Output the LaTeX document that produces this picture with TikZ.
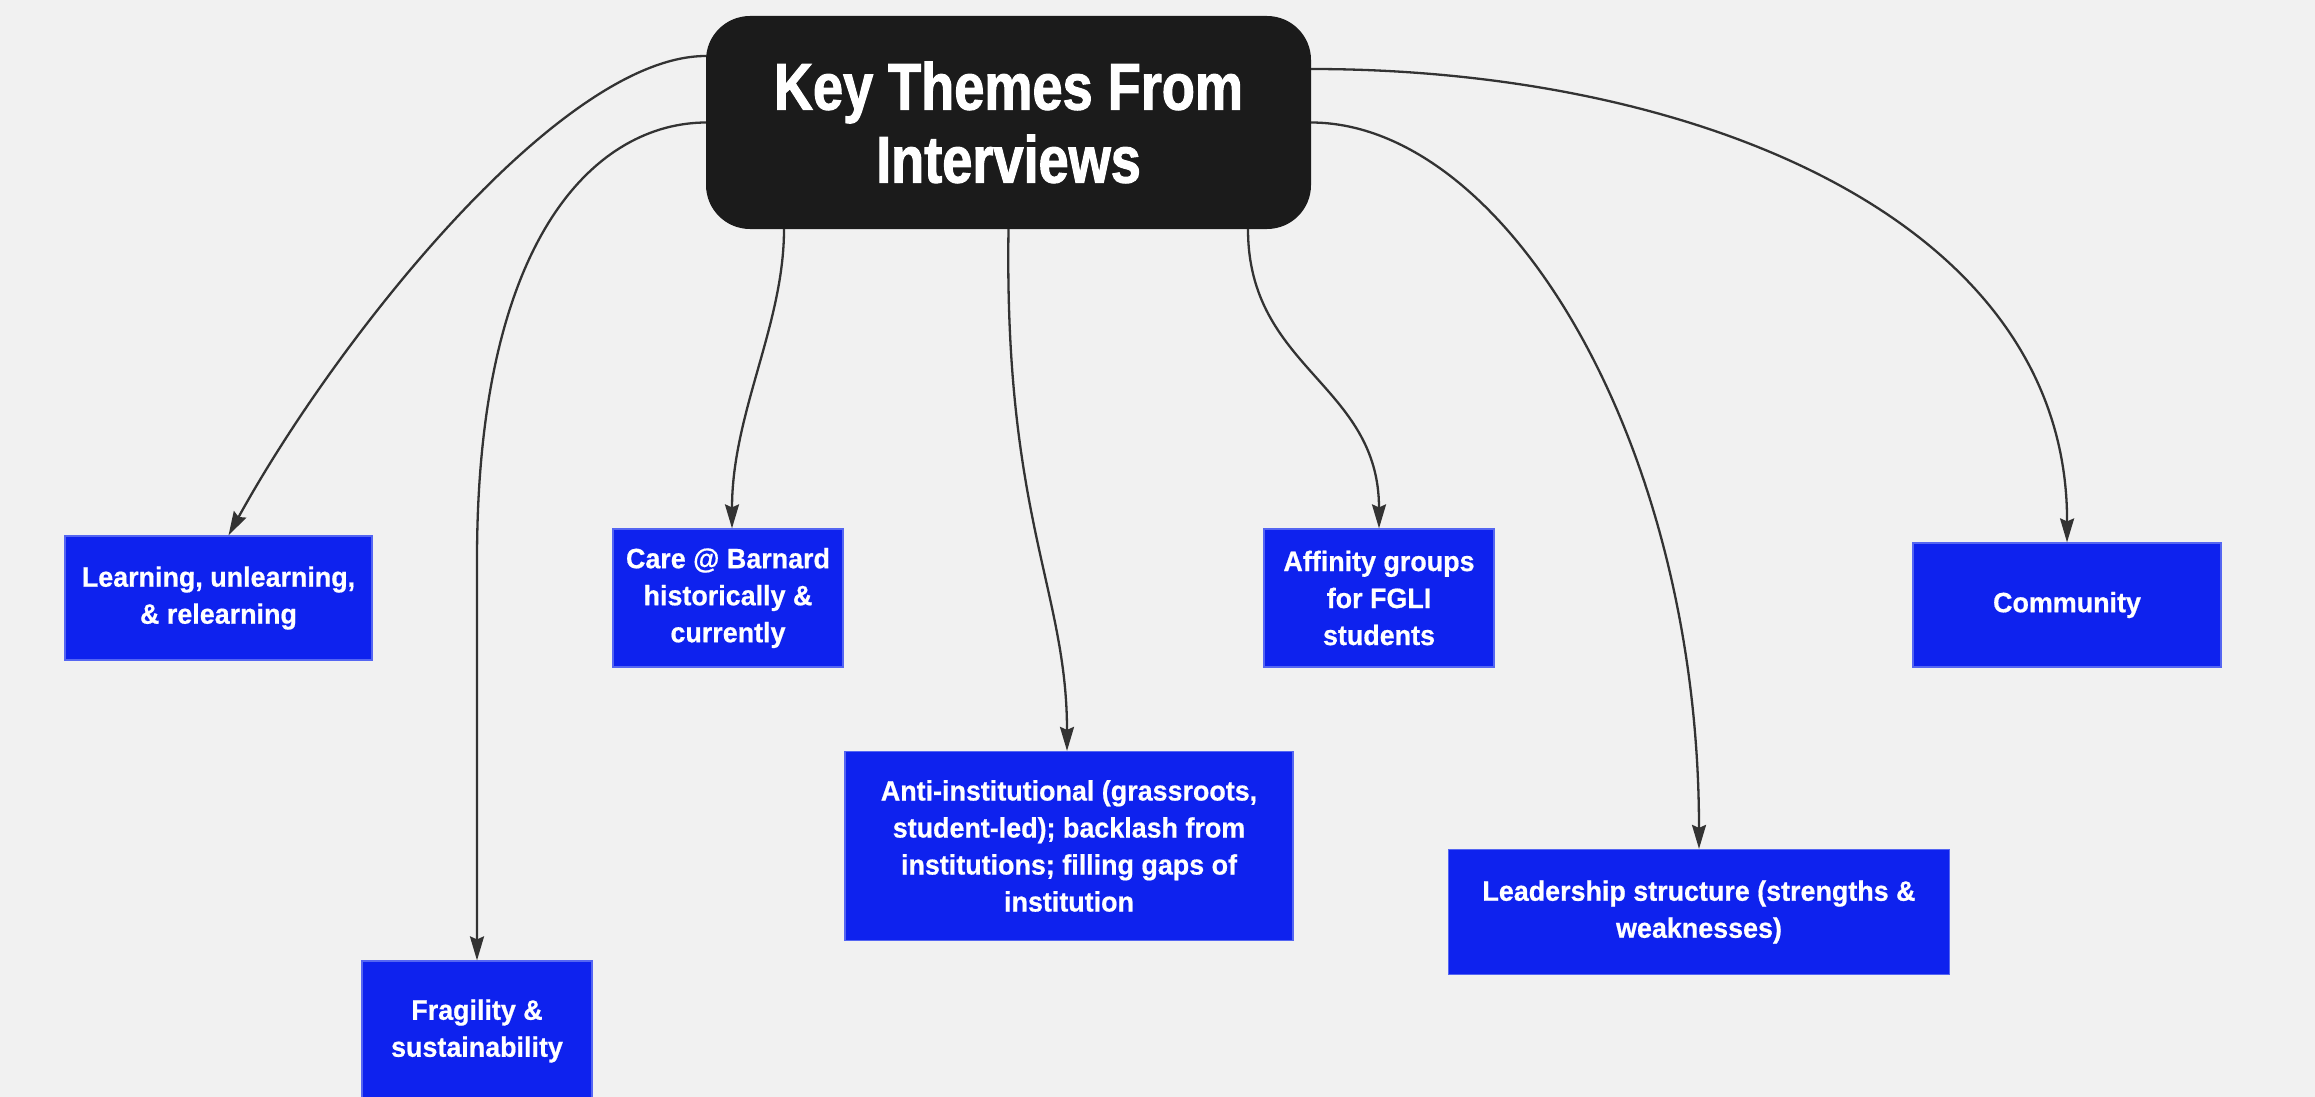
\documentclass[tikz,border=0pt]{standalone}
\usepackage{fontspec}
\setmainfont{Liberation Sans}
\newfontfamily\titlefont{Liberation Sans}[FakeStretch=0.82,BoldFeatures={FakeBold=1.6}]
\newfontfamily\themefont{Liberation Sans}[FakeStretch=0.96,BoldFeatures={FakeBold=0.6}]
\usetikzlibrary{arrows.meta}
\definecolor{pagebg}{HTML}{F1F1F1}
\definecolor{rootfill}{HTML}{1B1B1B}
\definecolor{themefill}{HTML}{0E22EE}
\definecolor{themeedge}{HTML}{5566F2}
\definecolor{linkcol}{HTML}{333333}
\begin{document}
\begin{tikzpicture}[x=1pt,y=-1pt,
  root/.style={fill=rootfill,rounded corners=44pt,minimum width=605pt,minimum height=213pt,
    inner sep=0pt,align=center,text=white,font=\titlefont\bfseries\fontsize{66}{73}\selectfont},
  theme/.style={fill=themefill,draw=themeedge,line width=1.2pt,inner sep=0pt,align=center,
    text=white,font=\themefont\bfseries\fontsize{28}{37}\selectfont},
  link/.style={draw=linkcol,line width=2.3pt,-{Stealth[length=24pt,width=14pt,inset=3pt]}}]
\useasboundingbox (0,0) rectangle (2315,1097);
\fill[pagebg] (0,0) rectangle (2315,1097);

% central topic
\node[root] (root) at (1008.5,122.5) {Key Themes From\\Interviews};

% themes
\node[theme,minimum width=307pt,minimum height=124pt] (learn) at (218.5,598)
  {Learning, unlearning,\\\& relearning};
\node[theme,minimum width=230pt,minimum height=140pt] (fragile) at (477,1031)
  {Fragility \&\\sustainability};
\node[theme,minimum width=230pt,minimum height=138pt] (care) at (728,598)
  {Care @ Barnard\\historically \&\\currently};
\node[theme,minimum width=448pt,minimum height=189pt] (anti) at (1069,846)
  {Anti-institutional (grassroots,\\student-led); backlash from\\institutions; filling gaps of\\institution};
\node[theme,minimum width=230pt,minimum height=138pt] (affinity) at (1379,598)
  {Affinity groups\\for FGLI\\students};
\node[theme,minimum width=501pt,minimum height=125pt] (lead) at (1699,912)
  {Leadership structure (strengths \&\\weaknesses)};
\node[theme,minimum width=308pt,minimum height=124pt] (community) at (2067,605)
  {Community};

% connectors
\draw[link] ([yshift=66.5pt]root.west) .. controls (561,56) and (337,338) .. ([xshift=10pt]learn.north);
\draw[link] (root.west) .. controls (600,123) and (477,230) .. (477,560) -- (fragile.north);
\draw[link] ([xshift=-224.5pt]root.south) .. controls (784,325) and (732,413) .. ([xshift=4pt]care.north);
\draw[link] (root.south) .. controls (1004,517) and (1067,591) .. ([xshift=-2pt]anti.north);
\draw[link] ([xshift=239.5pt]root.south) .. controls (1248,369) and (1379,384) .. (affinity.north);
\draw[link] (root.east) .. controls (1506,123) and (1699,443) .. (lead.north);
\draw[link] ([yshift=53.5pt]root.east) .. controls (1698,69) and (2068,221) .. (community.north);
\end{tikzpicture}
\end{document}
